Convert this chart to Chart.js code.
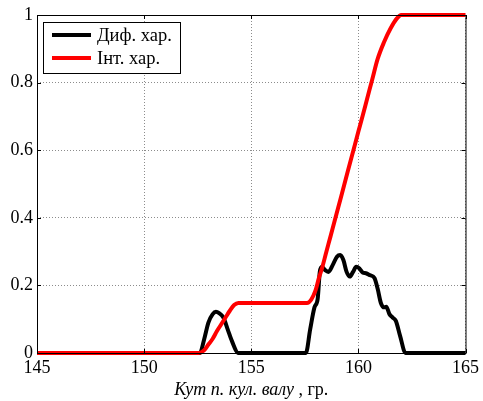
<!DOCTYPE html>
<html>
<head>
<meta charset="utf-8">
<script src="https://cdn.jsdelivr.net/npm/chart.js@4"></script>
<style>
html, body { margin: 0; padding: 0; background: #fff; }
</style>
</head>
<body>
<canvas id="chart" width="483" height="401"></canvas>
<script>
// Диф. хар. (differential curve)
const difX = [145, 152.6, 152.8, 153.0, 153.2, 153.35, 153.5, 153.7, 153.9, 154.1, 154.4,
  157.55, 157.75, 157.95, 158.1, 158.2, 158.3, 158.45, 158.6, 158.8, 159.0, 159.15, 159.3,
  159.45, 159.6, 159.75, 159.9, 160.05, 160.2, 160.35, 160.55, 160.75, 160.9, 161.05, 161.2,
  161.3, 161.45, 161.6, 161.75, 161.95, 162.2, 165];
const difY = [0, 0, 0.04, 0.09, 0.115, 0.122, 0.118, 0.105, 0.07, 0.035, 0,
  0, 0.07, 0.135, 0.16, 0.24, 0.255, 0.245, 0.24, 0.26, 0.285, 0.29, 0.275,
  0.24, 0.226, 0.24, 0.255, 0.25, 0.238, 0.236, 0.23, 0.222, 0.19, 0.148, 0.135,
  0.137, 0.115, 0.105, 0.095, 0.05, 0, 0];

// Інт. хар. (integral curve)
const intX = [145, 152.55, 152.8, 153.0, 153.2, 153.4, 153.6, 153.8, 154.0, 154.2, 154.4,
  157.6, 157.8, 158.0, 158.15, 158.3, 158.5, 158.7, 158.9, 159.2, 159.5, 159.8, 160.0,
  160.2, 160.4, 160.65, 160.9, 161.2, 161.5, 161.8, 162.0, 165];
const intY = [0, 0, 0.008, 0.025, 0.042, 0.065, 0.085, 0.105, 0.125, 0.142, 0.148,
  0.148, 0.158, 0.185, 0.22, 0.25, 0.298, 0.345, 0.393, 0.464, 0.536, 0.607, 0.655,
  0.702, 0.75, 0.81, 0.87, 0.92, 0.96, 0.99, 1, 1];

const seriesNames = ["Диф. хар.", "Інт. хар."];
const xTicks = [145, 150, 155, 160, 165];
const yTicks = [0, 0.2, 0.4, 0.6, 0.8, 1];
const xTitleItalic = "Кут п. кул. валу";
const xTitleRest = " , гр.";

const FONT = "'Liberation Serif', 'Times New Roman', serif";
const pts = (xs, ys) => xs.map((x, i) => ({ x: x, y: ys[i] }));

// box, inward ticks, legend and x title in the matlab look
const matlabFrame = {
  id: "matlabFrame",
  afterDraw(chart) {
    const ctx = chart.ctx;
    const a = chart.chartArea;
    const sx = chart.scales.x, sy = chart.scales.y;
    ctx.save();
    ctx.strokeStyle = "#000";
    ctx.lineWidth = 1;
    ctx.strokeRect(a.left + 0.5, a.top + 0.5, a.right - a.left, a.bottom - a.top);
    ctx.beginPath();
    xTicks.forEach(v => {
      const px = Math.round(sx.getPixelForValue(v)) + 0.5;
      ctx.moveTo(px, a.bottom); ctx.lineTo(px, a.bottom - 4);
      ctx.moveTo(px, a.top); ctx.lineTo(px, a.top + 4);
    });
    yTicks.forEach(v => {
      const py = Math.round(sy.getPixelForValue(v)) + 0.5;
      ctx.moveTo(a.left, py); ctx.lineTo(a.left + 4, py);
      ctx.moveTo(a.right, py); ctx.lineTo(a.right - 4, py);
    });
    ctx.stroke();

    // legend
    const lx = a.left + 6, ly = a.top + 7, lw = 137, lh = 51;
    ctx.fillStyle = "#fff";
    ctx.fillRect(lx, ly, lw, lh);
    ctx.strokeRect(lx + 0.5, ly + 0.5, lw, lh);
    ctx.font = "18.5px " + FONT;
    ctx.textBaseline = "middle";
    chart.data.datasets.forEach((ds, i) => {
      const yy = ly + 13 + i * 23;
      ctx.strokeStyle = ds.borderColor;
      ctx.lineWidth = 4;
      ctx.beginPath();
      ctx.moveTo(lx + 9, yy); ctx.lineTo(lx + 48, yy);
      ctx.stroke();
      ctx.fillStyle = "#000";
      ctx.fillText(ds.label, lx + 54, yy + 1);
    });

    // x title: italic part + plain part
    ctx.fillStyle = "#000";
    ctx.textBaseline = "alphabetic";
    const fi = "italic 18px " + FONT, fn = "18px " + FONT;
    ctx.font = fi; const w1 = ctx.measureText(xTitleItalic).width;
    ctx.font = fn; const w2 = ctx.measureText(xTitleRest).width;
    const x0 = (a.left + a.right) / 2 - (w1 + w2) / 2;
    ctx.font = fi; ctx.fillText(xTitleItalic, x0, 395);
    ctx.font = fn; ctx.fillText(xTitleRest, x0 + w1, 395);
    ctx.restore();
  }
};

new Chart(document.getElementById("chart").getContext("2d"), {
  type: "line",
  data: {
    datasets: [
      {
        label: seriesNames[0],
        data: pts(difX, difY),
        borderColor: "#000000",
        borderWidth: 4,
        pointRadius: 0,
        cubicInterpolationMode: "monotone",
        clip: false,
        order: 1,
      },
      {
        label: seriesNames[1],
        data: pts(intX, intY),
        borderColor: "#ff0000",
        borderWidth: 4,
        pointRadius: 0,
        cubicInterpolationMode: "monotone",
        clip: false,
        order: 0,
      },
    ],
  },
  options: {
    responsive: false,
    animation: false,
    layout: { padding: { top: 15, right: 14, left: 0, bottom: 0 } },
    plugins: { legend: { display: false }, tooltip: { enabled: false } },
    scales: {
      x: {
        type: "linear",
        min: 145,
        max: 165,
        afterBuildTicks: s => { s.ticks = xTicks.map(v => ({ value: v })); },
        afterFit: s => { s.height = 48; },
        grid: { color: "#8c8c8c", drawTicks: false, lineWidth: 1 },
        border: { display: false, dash: [1, 2] },
        ticks: { color: "#000", font: { family: FONT, size: 18 }, padding: 4, maxRotation: 0 },
      },
      y: {
        min: 0,
        max: 1,
        afterBuildTicks: s => { s.ticks = yTicks.map(v => ({ value: v })); },
        afterFit: s => { s.width = 37; },
        grid: { color: "#8c8c8c", drawTicks: false, lineWidth: 1 },
        border: { display: false, dash: [1, 2] },
        ticks: { color: "#000", font: { family: FONT, size: 18 }, padding: 4, callback: v => String(v) },
      },
    },
  },
  plugins: [matlabFrame],
});
</script>
</body>
</html>
